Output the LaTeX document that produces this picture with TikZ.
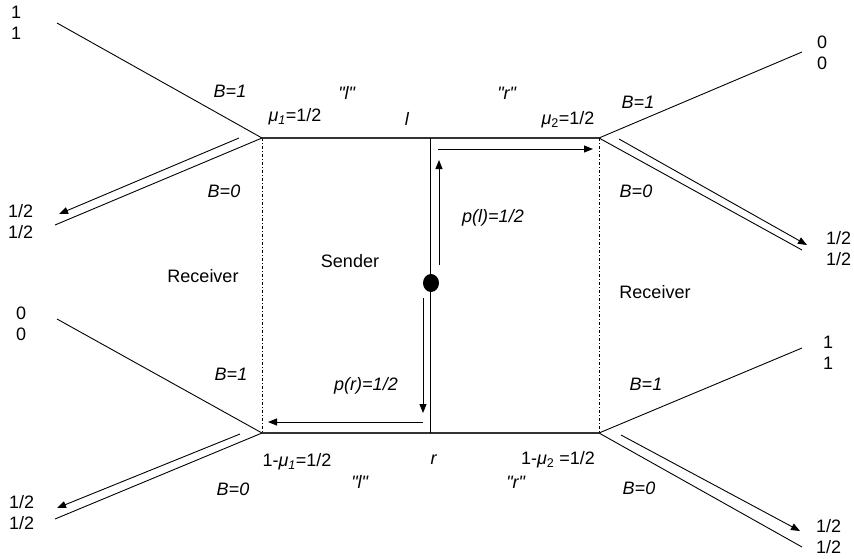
\documentclass[tikz,border=0pt]{standalone}
\usepackage{fontspec}
\setmainfont{Liberation Sans}
\newfontfamily\plainsans{Liberation Sans}
\usetikzlibrary{arrows.meta,shapes.geometric}
\begin{document}
\begin{tikzpicture}[x=1pt,y=-1pt,
  lbl/.style={inner sep=0pt,font=\plainsans\fontsize{18}{21}\selectfont},
  pay/.style={lbl,align=left,anchor=west},
  branch/.style={line width=0.9pt},
  hline/.style={line width=1.3pt,draw=black!80},
  info/.style={line width=0.8pt,dash pattern=on 3pt off 2pt on 1pt off 2pt},
  arr/.style={line width=0.9pt,-{Triangle[length=9pt,width=7pt]}},
]
\useasboundingbox (0,0) rectangle (854,558);
% decision points
\coordinate (UL) at (262,138);
\coordinate (UM) at (430,138);
\coordinate (UR) at (599,138);
\coordinate (LL) at (262,433);
\coordinate (LM) at (430,433);
\coordinate (LR) at (599,433);
% terminal ends
\coordinate (ULa) at (57,23);
\coordinate (ULb) at (55,225);
\coordinate (URa) at (802,52);
\coordinate (URb) at (802,250);
\coordinate (LLa) at (57,319);
\coordinate (LLb) at (55,519);
\coordinate (LRa) at (802,348);
\coordinate (LRb) at (802,547);
% arrow ends
\coordinate (aULs) at (239,138);
\coordinate (aULe) at (59,214);
\coordinate (aURs) at (619,139);
\coordinate (aURe) at (807,245);
\coordinate (aLLs) at (240,434);
\coordinate (aLLe) at (57,508);
\coordinate (aLRs) at (621,435);
\coordinate (aLRe) at (800,531);
\coordinate (aTs) at (438,149);
\coordinate (aTe) at (593,149);
\coordinate (aUs) at (439,265);
\coordinate (aUe) at (439,160);
\coordinate (aDs) at (423,298);
\coordinate (aDe) at (423,413);
\coordinate (aBs) at (423,422);
\coordinate (aBe) at (268,422);

% information sets
\draw[info] (UL) -- (LL);
\draw[info] (UR) -- (LR);
% sender lines
\draw[hline] (UL) -- (UM) -- (UR);
\draw[hline] (LL) -- (LM) -- (LR);
\draw[branch] (UM) -- (LM);
% receiver branches
\draw[branch] (UL) -- (ULa);
\draw[branch] (UL) -- (ULb);
\draw[branch] (UR) -- (URa);
\draw[branch] (UR) -- (URb);
\draw[branch] (LL) -- (LLa);
\draw[branch] (LL) -- (LLb);
\draw[branch] (LR) -- (LRa);
\draw[branch] (LR) -- (LRb);
% equilibrium arrows
\draw[arr] (aULs) -- (aULe);
\draw[arr] (aURs) -- (aURe);
\draw[arr] (aLLs) -- (aLLe);
\draw[arr] (aLRs) -- (aLRe);
\draw[arr] (aTs) -- (aTe);
\draw[arr] (aUs) -- (aUe);
\draw[arr] (aDs) -- (aDe);
\draw[arr] (aBs) -- (aBe);
% nature
\node[ellipse,fill=black,inner sep=0pt,minimum width=16pt,minimum height=18pt] (dot) at (431,283) {};

% payoffs
\node[pay] (pULa) at (11,23) {1\\1};
\node[pay] (pULb) at (8,222) {1/2\\1/2};
\node[pay] (pURa) at (817,53) {0\\0};
\node[pay] (pURb) at (826,249) {1/2\\1/2};
\node[pay] (pLLa) at (16,324) {0\\0};
\node[pay] (pLLb) at (9,513) {1/2\\1/2};
\node[pay] (pLRa) at (823,353) {1\\1};
\node[pay] (pLRb) at (816,537) {1/2\\1/2};

% action labels
\node[lbl] (b1UL) at (230,91) {\textit{B=1}};
\node[lbl] (b0UL) at (224,191) {\textit{B=0}};
\node[lbl] (b1UR) at (638,102) {\textit{B=1}};
\node[lbl] (b0UR) at (636,191) {\textit{B=0}};
\node[lbl] (b1LL) at (231,374) {\textit{B=1}};
\node[lbl] (b0LL) at (233,489) {\textit{B=0}};
\node[lbl] (b1LR) at (646,384) {\textit{B=1}};
\node[lbl] (b0LR) at (639,488) {\textit{B=0}};

\node[lbl] (mu1) at (295,117) {\textit{μ}\textsubscript{\textit{1}}=1/2};
\node[lbl] (mu2) at (568,120) {\textit{μ}\textsubscript{2}=1/2};
\node[lbl] (tl) at (407,119) {\textit{l}};
\node[lbl] (qlt) at (347,93) {\textit{"l"}};
\node[lbl] (qrt) at (507,93) {\textit{"r"}};
\node[lbl] (pl) at (493,218) {\textit{p(l)=1/2}};
\node[lbl] (pr) at (366,386) {\textit{p(r)=1/2}};
\node[lbl] (mu1b) at (297,462) {1-\textit{μ}\textsubscript{\textit{1}}=1/2};
\node[lbl] (tr) at (434,460) {\textit{r}};
\node[lbl] (mu2b) at (558,460) {1-\textit{μ}\textsubscript{2} =1/2};
\node[lbl] (qlb) at (360,482) {\textit{"l"}};
\node[lbl] (qrb) at (516,482) {\textit{"r"}};

\node[lbl] (recL) at (203,276) {Receiver};
\node[lbl] (send) at (350,261) {Sender};
\node[lbl] (recR) at (655,292) {Receiver};
\end{tikzpicture}
\end{document}
